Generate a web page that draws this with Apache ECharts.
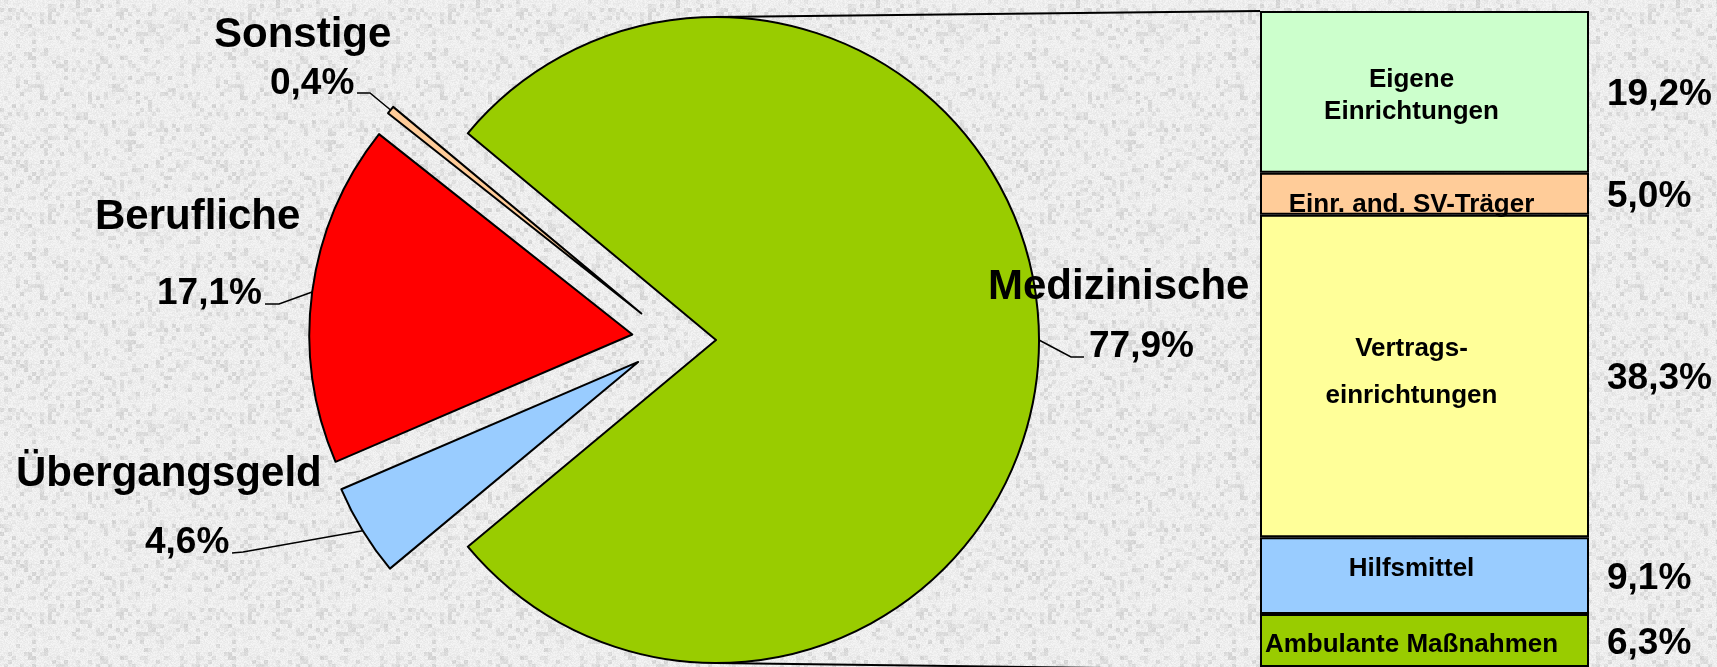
<!DOCTYPE html>
<html>
<head>
<meta charset="utf-8">
<script src="https://cdn.jsdelivr.net/npm/echarts@6/dist/echarts.min.js"></script>
<style>
  html, body { margin: 0; padding: 0; }
  #chart { width: 1717px; height: 667px; background: #e9e9e9; }
</style>
</head>
<body>
<div id="chart"></div>
<script>
// pie: shares of total spending
const pieNames = ["Medizinische", "Übergangsgeld", "Berufliche", "Sonstige"];
const pieValues = [77.9, 4.6, 17.1, 0.4];
const pieColors = ["#99cc00", "#99ccff", "#ff0000", "#ffcc99"];

// bar: breakdown of "Medizinische", bottom to top
const barNames = ["Ambulante Maßnahmen", "Hilfsmittel", "Vertrags-\neinrichtungen", "Einr. and. SV-Träger", "Eigene\nEinrichtungen"];
const barValues = [6.3, 9.1, 38.3, 5.0, 19.2];
const barColors = ["#99cc00", "#99ccff", "#ffff99", "#ffcc99", "#ccffcc"];

// layout
const FONT = '"Liberation Sans", Arial, sans-serif';
const pieCenter = [674, 340];
const pieRadius = 323;
const explode = 42;
const barGrid = { left: 1260, top: 11, width: 329, height: 659 };

// pie labels: name left/baseline, value left/baseline, leader bend + end
const pieLabelPos = [
    { name: [988, 298], value: [1089, 357], line: [[1071, 357], [1084, 357]] },
    { name: [16, 485], value: [145, 553], line: [[243, 552], [232, 553]] },
    { name: [95, 228], value: [157, 304], line: [[279, 304], [265, 304]] },
    { name: [214, 46], value: [270, 94], line: [[370, 93], [357, 93]] }
];
// bar inside labels: [dx, dy, lineHeight]
const barLabelTweak = [[-13, 4, 30], [-13, -7, 30], [-13, -4, 47], [-13, 11, 30], [-13, 4, 32]];

function pct(v) {
    return v.toFixed(1).replace(".", ",") + "%";
}

function makeTexture() {
    const size = 200;
    const cv = document.createElement("canvas");
    cv.width = cv.height = size;
    const ctx = cv.getContext("2d");
    const img = ctx.createImageData(size, size);
    const hash = (x, y) => {
        const s = Math.sin(x * 12.9898 + y * 78.233) * 43758.5453;
        return s - Math.floor(s);
    };
    for (let y = 0; y < size; y++) {
        for (let x = 0; x < size; x++) {
            const fine = hash(x, y);
            const blob = hash(Math.floor(x / 4) + 7, Math.floor(y / 4) + 3);
            let g = 238 + (fine - 0.5) * 16;
            if (blob > 0.7) g -= (blob - 0.7) * 85;
            const k = (y * size + x) * 4;
            img.data[k] = img.data[k + 1] = img.data[k + 2] = Math.max(190, Math.min(252, g));
            img.data[k + 3] = 255;
        }
    }
    ctx.putImageData(img, 0, 0);
    return cv;
}

const total = pieValues.reduce((a, b) => a + b, 0);
const startAngle = pieValues[0] / total * 180;

let cum = 0;
const pieSeries = pieValues.map((v, i) => {
    const mid = (startAngle - (cum + v / 2) / total * 360) * Math.PI / 180;
    cum += v;
    const center = [pieCenter[0] + explode * Math.cos(mid), pieCenter[1] - explode * Math.sin(mid)];
    const pos = pieLabelPos[i];
    const x0 = Math.min(pos.name[0], pos.value[0]);
    const top = pos.name[1] - 32;
    const valueLine = 2 * (pos.value[1] - 10 - top - 42);

    return {
        type: "pie",
        center: center,
        radius: pieRadius,
        startAngle: startAngle,
        clockwise: true,
        silent: true,
        animation: false,
        avoidLabelOverlap: false,
        data: pieValues.map((w, j) => {
            if (j !== i) {
                return {
                    name: pieNames[j], value: w,
                    itemStyle: { color: "rgba(0,0,0,0)", borderWidth: 0 },
                    label: { show: false }, labelLine: { show: false }
                };
            }
            return {
                name: pieNames[j], value: w,
                itemStyle: { color: pieColors[j], borderColor: "#000", borderWidth: 2 },
                label: {
                    show: true,
                    formatter: "{n|" + pieNames[j] + "}\n{v|" + pct(w) + "}",
                    rich: {
                        n: { fontFamily: FONT, fontWeight: "bold", fontSize: 42, lineHeight: 42, color: "#000",
                             padding: [0, 0, 0, pos.name[0] - x0] },
                        v: { fontFamily: FONT, fontWeight: "bold", fontSize: 37, lineHeight: valueLine, color: "#000",
                             padding: [0, 0, 0, pos.value[0] - x0] }
                    }
                },
                labelLine: { show: true, smooth: false, lineStyle: { color: "#000", width: 1.5 } }
            };
        }),
        labelLayout: (p) => {
            if (p.dataIndex !== i || !p.labelLinePoints) return {};
            return {
                x: x0, y: top, align: "left", verticalAlign: "top",
                labelLinePoints: [p.labelLinePoints[0], pos.line[0], pos.line[1]]
            };
        }
    };
});

const barTotal = barValues.reduce((a, b) => a + b, 0);

const barSeries = barValues.map((v, i) => ({
    type: "bar",
    name: barNames[i],
    stack: "med",
    xAxisIndex: 0,
    barWidth: "100%",
    silent: true,
    animation: false,
    data: [v],
    itemStyle: { color: barColors[i], borderColor: "#000", borderWidth: 2 },
    label: {
        show: true, position: "inside", formatter: barNames[i],
        color: "#000", fontFamily: FONT, fontWeight: "bold", fontSize: 26,
        lineHeight: barLabelTweak[i][2], align: "center",
        offset: [barLabelTweak[i][0], barLabelTweak[i][1]]
    }
}));

const barValueSeries = barValues.map((v, i) => ({
    type: "bar",
    stack: "medValue",
    xAxisIndex: 1,
    barWidth: "100%",
    silent: true,
    animation: false,
    data: [v],
    itemStyle: { color: "rgba(0,0,0,0)" },
    label: {
        show: true, position: "right", distance: 18, formatter: pct(v), offset: [0, 3],
        color: "#000", fontFamily: FONT, fontWeight: "bold", fontSize: 37
    }
}));

const medCenter = pieSeries[0].center;
const chart = echarts.init(document.getElementById("chart"));

chart.setOption({
    backgroundColor: { image: makeTexture(), repeat: "repeat" },
    animation: false,
    grid: barGrid,
    xAxis: [
        { type: "category", data: ["Medizinische"], show: false },
        { type: "category", data: ["Medizinische"], show: false }
    ],
    yAxis: { type: "value", min: 0, max: barTotal, show: false },
    graphic: [
        {
            type: "line", silent: true, z: 1,
            shape: { x1: medCenter[0], y1: medCenter[1] - pieRadius, x2: barGrid.left, y2: barGrid.top },
            style: { stroke: "#000", lineWidth: 2 }
        },
        {
            type: "line", silent: true, z: 1,
            shape: { x1: medCenter[0], y1: medCenter[1] + pieRadius, x2: barGrid.left, y2: barGrid.top + barGrid.height },
            style: { stroke: "#000", lineWidth: 2 }
        }
    ],
    series: [...pieSeries, ...barSeries, ...barValueSeries]
});
</script>
</body>
</html>
